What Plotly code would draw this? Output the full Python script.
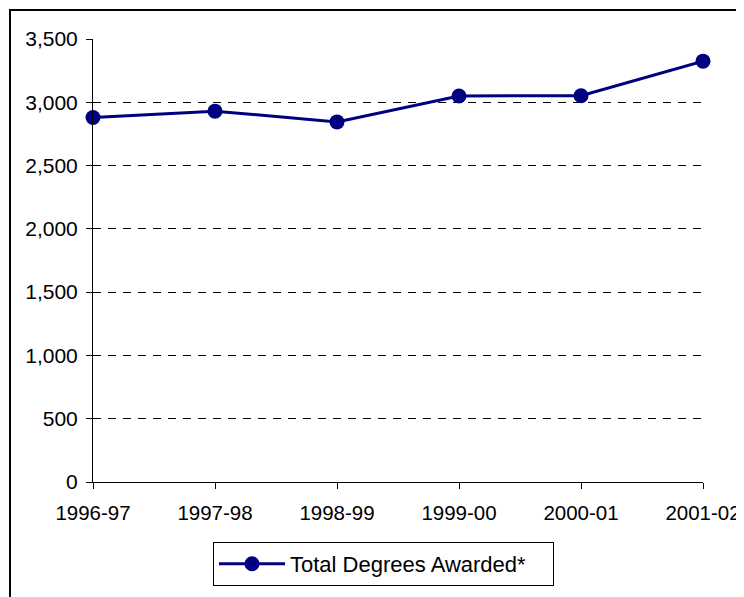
import plotly.graph_objects as go

years = ["1996-97", "1997-98", "1998-99", "1999-00", "2000-01", "2001-02"]
total_degrees = [2880, 2930, 2845, 3050, 3052, 3325]
series_name = "Total Degrees Awarded*"
y_ticks = [0, 500, 1000, 1500, 2000, 2500, 3000, 3500]

# page body has an 8px margin; figure-local pixel = reference pixel - 8
OFF = 8
W, H = 744 - OFF, 597 - OFF
L, R, T = 93 - OFF, W - (703 - OFF), 39 - OFF
B = H - (482 - OFF)
pw, ph = W - L - R, H - T - B

def px_x(p):
    return (p - OFF - L) / pw

def px_y(p):
    return (H - B - (p - OFF)) / ph

fig = go.Figure()
fig.add_trace(go.Scatter(
    x=years, y=total_degrees, name=series_name,
    mode="lines+markers",
    line=dict(color="#000080", width=3),
    marker=dict(color="#000080", size=15),
    cliponaxis=False,
))

fam = "Arial, 'Liberation Sans', sans-serif"
font = dict(family=fam, size=21, color="#000000")

fig.update_layout(
    width=W, height=H,
    margin=dict(l=L, r=R, t=T, b=B, pad=0, autoexpand=False),
    paper_bgcolor="white", plot_bgcolor="white",
    font=font,
    showlegend=True,
    legend=dict(
        x=px_x(383.5), y=px_y(542), xanchor="center", yanchor="top",
        bordercolor="#000000", borderwidth=1,
        font=dict(family=fam, size=22, color="#000000"),
        orientation="h",
        itemwidth=66, entrywidth=258,
    ),
    xaxis=dict(
        type="category", range=[0, len(years) - 1], automargin=False,
        showline=True, linecolor="#000000", linewidth=1,
        ticks="outside", ticklen=6, tickcolor="#000000", tickwidth=1,
        ticklabelstandoff=6,
        tickfont=dict(family=fam, size=20.5, color="#000000"),
        showgrid=False, zeroline=False,
    ),
    yaxis=dict(
        range=[0, 3500], tickvals=y_ticks, tickformat=",", automargin=False,
        showline=True, linecolor="#000000", linewidth=1,
        ticks="outside", ticklen=6, tickcolor="#000000", tickwidth=1,
        ticklabelstandoff=4,
        showgrid=True, gridcolor="#000000", gridwidth=1, griddash="8px,7px",
        zeroline=False,
    ),
    shapes=[dict(
        type="rect", xref="paper", yref="paper",
        x0=px_x(10), x1=px_x(760), y0=px_y(610), y1=px_y(10),
        line=dict(color="#000000", width=2), fillcolor="rgba(0,0,0,0)",
        layer="below",
    )],
)

fig.write_html("out.html")
